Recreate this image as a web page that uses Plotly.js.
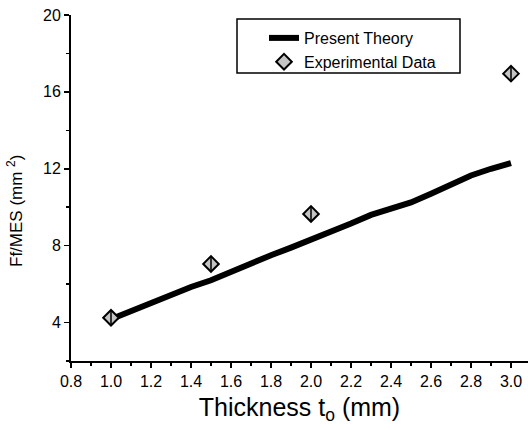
<!DOCTYPE html>
<html>
<head>
<meta charset="utf-8">
<script src="https://cdn.plot.ly/plotly-3.0.1.min.js"></script>
<style>html,body{margin:0;padding:0;background:#fff;}#chart{width:528px;height:430px;}</style>
</head>
<body>
<div id="chart"></div>
<script>
// Present theory curve
const theoryX = [1.03, 1.1, 1.2, 1.3, 1.4, 1.5, 1.6, 1.7, 1.8, 1.9, 2.0, 2.1, 2.2, 2.3, 2.4, 2.5, 2.6, 2.7, 2.8, 2.9, 3.0];
const theoryY = [4.3, 4.6, 5.0, 5.4, 5.85, 6.2, 6.65, 7.1, 7.5, 7.9, 8.3, 8.7, 9.15, 9.6, 9.95, 10.25, 10.7, 11.2, 11.65, 12.0, 12.3];
// Experimental data
const expX = [1.0, 1.5, 2.0, 3.0];
const expY = [4.25, 7.05, 9.65, 16.95];
// Tick labels
const xTickVals = [0.8, 1.0, 1.2, 1.4, 1.6, 1.8, 2.0, 2.2, 2.4, 2.6, 2.8, 3.0];
const xTickText = ["0.8", "1.0", "1.2", "1.4", "1.6", "1.8", "2.0", "2.2", "2.4", "2.6", "2.8", "3.0"];
const yTickVals = [4, 8, 12, 16, 20];

const font = "Liberation Sans, Arial, Helvetica, sans-serif";

const traces = [
  {x: theoryX, y: theoryY, mode: "lines", name: "Present Theory",
   line: {color: "#000", width: 6}},
  {x: expX, y: expY, mode: "markers", name: "Experimental Data",
   marker: {symbol: "diamond", size: 12, color: "#c4c4c4", line: {color: "#000", width: 2}}},
  {x: expX, y: expY, mode: "markers", showlegend: false, hoverinfo: "skip",
   marker: {symbol: "line-ns", size: 11, color: "#000", line: {color: "#000", width: 1.5}}}
];

const W = 457, H = 346;
const layout = {
  width: 528, height: 430,
  margin: {l: 71, r: 0, t: 15, b: 69},
  paper_bgcolor: "#fff", plot_bgcolor: "#fff",
  font: {family: font, color: "#000", size: 16},
  showlegend: true,
  legend: {x: (264 - 71) / W, y: 1 - (21 - 15) / H, xanchor: "left", yanchor: "top",
           borderwidth: 0, bgcolor: "rgba(0,0,0,0)",
           font: {family: font, size: 16, color: "#000"},
           tracegroupgap: 0, itemwidth: 30},
  shapes: [
    {type: "rect", xref: "paper", yref: "paper",
     x0: (237 - 71) / W, x1: (460 - 71) / W, y0: 1 - (73 - 15) / H, y1: 1 - (19 - 15) / H,
     line: {color: "#000", width: 1.5}, fillcolor: "rgba(0,0,0,0)", layer: "below"}
  ],
  annotations: [
    {text: "Ff/MES (mm <sup>2</sup>)", xref: "paper", yref: "paper",
     x: (15 - 71) / W, y: (361 - 211) / H, xanchor: "center", yanchor: "middle",
     textangle: -90, showarrow: false, font: {family: font, size: 17, color: "#000"}}
  ],
  xaxis: {range: [0.8, 3.085], showgrid: false, zeroline: false,
          showline: true, linecolor: "#000", linewidth: 2,
          ticks: "outside", ticklen: 5, tickwidth: 1.5, tickcolor: "#000",
          tickvals: xTickVals, ticktext: xTickText,
          tickfont: {family: font, size: 16},
          minor: {dtick: 0.1, ticks: "outside", ticklen: 3, tickcolor: "#000"},
          title: {text: "Thickness t<sub>o</sub> (mm)", font: {family: font, size: 25}, standoff: 9}},
  yaxis: {range: [2, 20], showgrid: false, zeroline: false,
          showline: true, linecolor: "#000", linewidth: 2,
          ticks: "outside", ticklen: 5, tickwidth: 1.5, tickcolor: "#000",
          tickvals: yTickVals,
          tickfont: {family: font, size: 16},
          minor: {dtick: 2, ticks: "outside", ticklen: 3, tickcolor: "#000"}}
};

Plotly.newPlot("chart", traces, layout, {displayModeBar: false, staticPlot: true});
</script>
</body>
</html>
